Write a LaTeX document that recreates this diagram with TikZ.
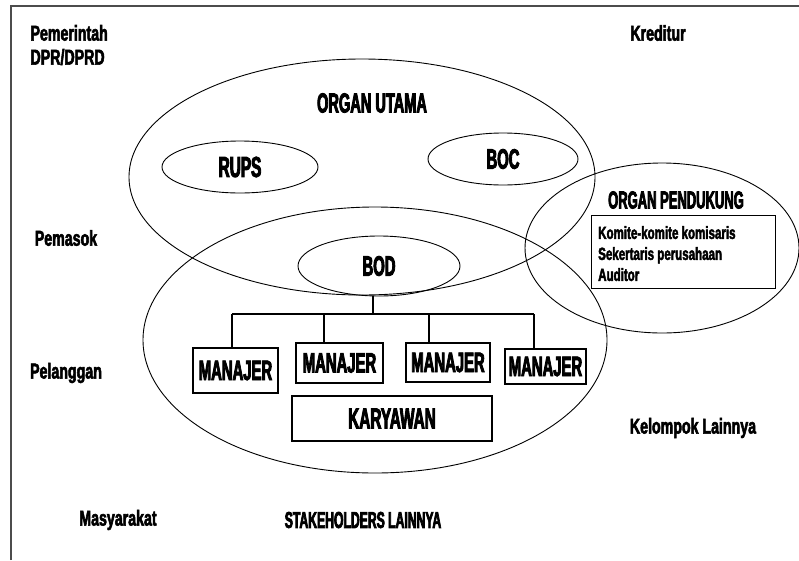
\documentclass[tikz,border=0pt]{standalone}
\usepackage{fontspec}
\usetikzlibrary{shapes.geometric}
\newfontfamily\capf[FakeStretch=0.53,FakeBold=3]{Liberation Sans}
\newfontfamily\lowf[FakeStretch=0.66,FakeBold=2.5]{Liberation Sans}
\newcommand{\capsz}[1]{\capf\bfseries\fontsize{#1}{#1}\selectfont}
\newcommand{\lowsz}[2]{\lowf\bfseries\fontsize{#1}{#2}\selectfont}
\begin{document}
\begin{tikzpicture}[x=1pt,y=-1pt,
  oval/.style={draw, ellipse, inner sep=0pt, line width=0.9pt},
  mbox/.style={draw, rectangle, inner sep=0pt, line width=1.2pt},
  smalllabel/.style={font=\lowsz{21.5}{24}},
  link/.style={line width=1.1pt}]
\useasboundingbox (0,0) rectangle (799,560);
\fill[white] (0,0) rectangle (799,560);
% frame
\draw[line width=2pt, black!70] (11,560) -- (11,6) -- (799,6);

% outer stakeholders
\node[smalllabel, align=left, anchor=west] (pem) at (27,45) {Pemerintah\\DPR/DPRD};
\node[smalllabel] (kred) at (658,33) {Kreditur};
\node[smalllabel] (pemasok) at (66,238) {Pemasok};
\node[smalllabel] (pelanggan) at (66,373) {Pelanggan};
\node[smalllabel] (masy) at (118,520) {Masyarakat};
\node[font=\capsz{23}] (stake) at (363,520) {STAKEHOLDERS LAINNYA};
\node[smalllabel] (kelompok) at (693,428) {Kelompok Lainnya};

% main organs
\node[oval, minimum width=466pt, minimum height=236pt] (utama) at (362,177) {};
\node[font=\capsz{27.5}] (utamalbl) at (372,103) {ORGAN UTAMA};
\node[oval, minimum width=156pt, minimum height=52pt, font=\capsz{29}] (rups) at (240,167) {RUPS};
\node[oval, minimum width=150pt, minimum height=52pt, font=\capsz{28}] (boc) at (503,159) {BOC};

% supporting organs
\node[oval, minimum width=274pt, minimum height=170pt] (pendukung) at (662,248) {};
\node[font=\capsz{24.5}] (pendlbl) at (676,200) {ORGAN PENDUKUNG};
\node[mbox, line width=0.9pt, minimum width=184pt, minimum height=73pt] (pendbox) at (683,252) {};
\node[font=\lowsz{17.5}{21}, align=left, anchor=north west, inner sep=0pt] (pendtext) at (598,226)
  {Komite-komite komisaris\\Sekertaris perusahaan\\Auditor};

% management
\node[oval, minimum width=464pt, minimum height=266pt] (mgmt) at (375,340) {};
\node[oval, minimum width=162pt, minimum height=60pt, font=\capsz{28}] (bod) at (379,266) {BOD};
\node[mbox, minimum width=85pt, minimum height=45pt, font=\capsz{28}] (m1) at (235.5,370.5) {MANAJER};
\node[mbox, minimum width=87pt, minimum height=40pt, font=\capsz{28}] (m2) at (339.5,363) {MANAJER};
\node[mbox, minimum width=84pt, minimum height=39pt, font=\capsz{28}] (m3) at (448,362.5) {MANAJER};
\node[mbox, minimum width=81pt, minimum height=35pt, font=\capsz{28}] (m4) at (545.5,366.5) {MANAJER};
\node[mbox, minimum width=200pt, minimum height=45pt, font=\capsz{29}] (kary) at (392,418.5) {KARYAWAN};

% organisation tree
\coordinate (d1) at (232,314);
\coordinate (d2) at (324,314);
\coordinate (d3) at (429,314);
\coordinate (d4) at (534,314);
\coordinate (top) at (373,314);
\draw[link] (d1) -- (d4);
\draw[link] (top) -- (top |- bod.south);
\draw[link] (d1) -- (d1 |- m1.north);
\draw[link] (d2) -- (d2 |- m2.north);
\draw[link] (d3) -- (d3 |- m3.north);
\draw[link] (d4) -- (d4 |- m4.north);
\end{tikzpicture}
\end{document}
